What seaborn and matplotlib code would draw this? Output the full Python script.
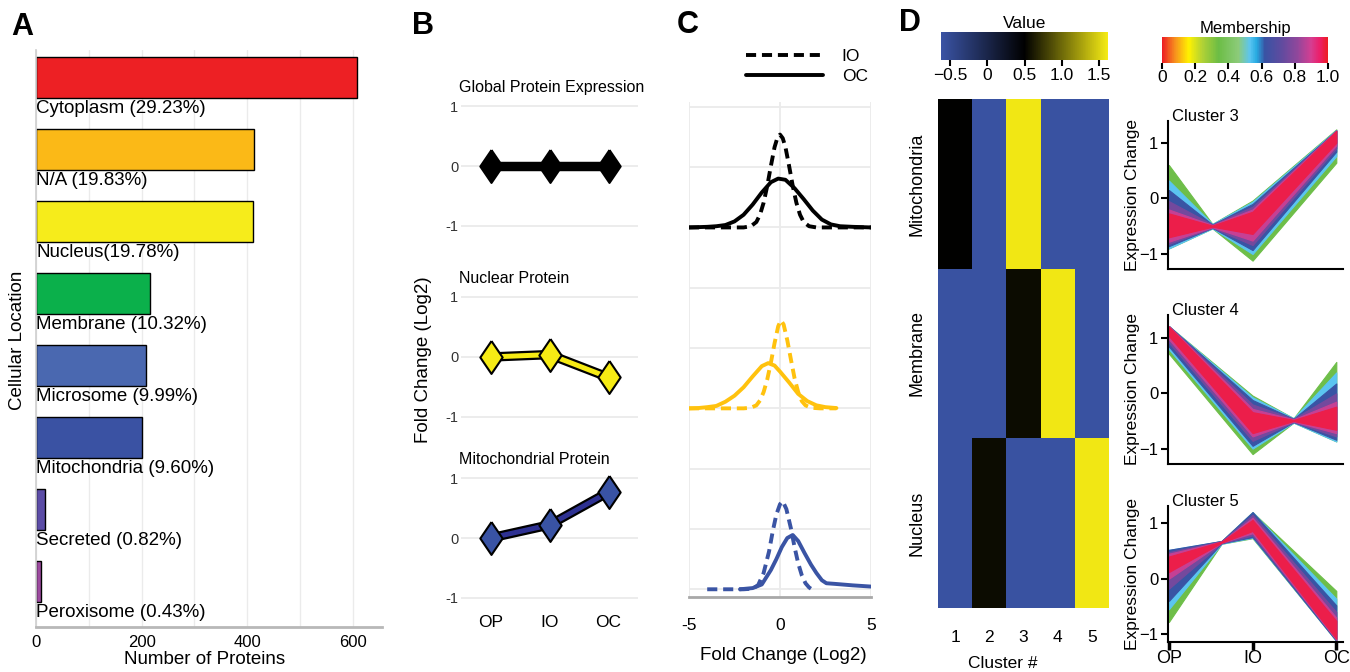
import numpy as np
import pandas as pd
import matplotlib
matplotlib.use('Agg')
import matplotlib.pyplot as plt
import matplotlib.patheffects as pe
from matplotlib.path import Path
from matplotlib.colors import LinearSegmentedColormap, Normalize
from matplotlib.cm import ScalarMappable
import seaborn as sns

sns.set_theme(style='white')
plt.rcParams['font.family'] = ['Liberation Sans', 'DejaVu Sans']
plt.rcParams['text.color'] = 'black'
plt.rcParams['axes.labelcolor'] = 'black'
plt.rcParams['xtick.color'] = 'black'
plt.rcParams['ytick.color'] = 'black'

W, H = 1350, 672

# ---------------- data ----------------
# A: cellular location of proteins
locations = ['Cytoplasm', 'N/A', 'Nucleus', 'Membrane', 'Microsome',
             'Mitochondria', 'Secreted', 'Peroxisome']
location_labels = ['Cytoplasm (29.23%)', 'N/A (19.83%)', 'Nucleus(19.78%)',
                   'Membrane (10.32%)', 'Microsome (9.99%)', 'Mitochondria (9.60%)',
                   'Secreted (0.82%)', 'Peroxisome (0.43%)']
protein_counts = [608, 412, 411, 215, 208, 200, 17, 9]
location_colors = ['#ED2024', '#FBB917', '#F6EC1B', '#0BB04B', '#4A68B0',
                   '#3A52A3', '#5B4CA6', '#9C4A9F']

# B: mean fold change per stage
stages = ['OP', 'IO', 'OC']
global_fc = [0.0, 0.0, 0.0]
nuclear_fc = [0.0, 0.04, -0.34]
mito_fc = [0.0, 0.22, 0.77]

# C: density ridges (heights read in ridge-grid units)
black_io_x = [-5, -2, -1.6, -1.3, -1.1, -0.9, -0.7, -0.5, -0.3, -0.15, 0, 0.15, 0.3, 0.5, 0.7, 0.9, 1.1, 1.3, 1.6, 2, 5]
black_io_h = [0, 0, 0.02, 0.09, 0.21, 0.41, 0.69, 1.02, 1.33, 1.48, 1.54, 1.48, 1.33, 1.02, 0.69, 0.41, 0.21, 0.09, 0.02, 0, 0]
black_oc_x = [-5, -4, -3.5, -3, -2.5, -2, -1.5, -1, -0.5, -0.1, 0.3, 0.8, 1.3, 1.8, 2.3, 2.8, 3.3, 4, 5]
black_oc_h = [0, 0.01, 0.02, 0.04, 0.1, 0.21, 0.38, 0.58, 0.75, 0.81, 0.79, 0.65, 0.47, 0.28, 0.13, 0.05, 0.02, 0.01, 0]
yellow_io_x = [-5, -2, -1.6, -1.3, -1.1, -0.9, -0.7, -0.5, -0.3, -0.1, 0.05, 0.2, 0.4, 0.6, 0.8, 1.0, 1.2, 1.4, 1.7, 2.2, 3.1]
yellow_io_h = [0, 0, 0.01, 0.05, 0.13, 0.27, 0.48, 0.76, 1.08, 1.36, 1.46, 1.39, 1.13, 0.81, 0.5, 0.27, 0.12, 0.05, 0.01, 0, 0]
yellow_oc_x = [-5, -4.5, -4, -3.5, -3, -2.5, -2, -1.5, -1, -0.65, -0.3, 0, 0.5, 1, 1.5, 2, 2.5, 3.1]
yellow_oc_h = [0, 0.005, 0.02, 0.04, 0.11, 0.21, 0.35, 0.53, 0.7, 0.75, 0.71, 0.61, 0.43, 0.24, 0.12, 0.05, 0.02, 0.005]
blue_io_x = [-4, -2, -1.5, -1.2, -0.9, -0.6, -0.4, -0.2, 0, 0.15, 0.35, 0.6, 0.8, 1.0, 1.2, 1.4, 1.6, 1.75]
blue_io_h = [0, 0, 0.01, 0.07, 0.27, 0.63, 0.96, 1.24, 1.41, 1.46, 1.33, 1.01, 0.7, 0.43, 0.23, 0.1, 0.03, 0]
blue_oc_x = [-2.2, -1.5, -1, -0.5, -0.2, 0.1, 0.4, 0.7, 1.0, 1.35, 1.7, 2.0, 2.3, 2.55, 3, 4, 5]
blue_oc_h = [0, 0.02, 0.08, 0.32, 0.5, 0.7, 0.85, 0.9, 0.8, 0.6, 0.41, 0.27, 0.15, 0.1, 0.09, 0.065, 0.045]

# D: heatmap of location enrichment per cluster
heat_rows = ['Mitochondria', 'Membrane', 'Nucleus']
heat_cols = ['1', '2', '3', '4', '5']
heat_values = [[0.50, -0.60, 1.60, -0.60, -0.60],
               [-0.60, -0.60, 0.56, 1.60, -0.60],
               [-0.60, 0.56, -0.60, -0.60, 1.60]]

# D: fuzzy cluster profiles, band edges per membership level
membership_levels = [0.35, 0.53, 0.62, 0.76, 0.88, 0.97]
c3_x = [0, 0.52, 1, 2]
c3_top = [[0.60, -0.46, -0.04, 1.24], [0.32, -0.46, -0.06, 1.23], [0.15, -0.47, -0.10, 1.22],
          [-0.05, -0.47, -0.15, 1.22], [-0.20, -0.48, -0.20, 1.22], [-0.27, -0.49, -0.24, 1.21]]
c3_bot = [[-0.90, -0.54, -1.12, 0.64], [-0.90, -0.54, -1.00, 0.76], [-0.86, -0.53, -0.93, 0.84],
          [-0.82, -0.53, -0.84, 0.90], [-0.78, -0.52, -0.76, 0.95], [-0.70, -0.51, -0.64, 1.00]]
c4_x = [0, 1, 1.49, 2]
c4_top = [[1.22, -0.04, -0.45, 0.57], [1.22, -0.07, -0.45, 0.38], [1.22, -0.12, -0.46, 0.18],
          [1.22, -0.20, -0.46, 0.00], [1.22, -0.28, -0.47, -0.15], [1.21, -0.34, -0.48, -0.24]]
c4_bot = [[0.72, -1.10, -0.53, -0.87], [0.80, -1.00, -0.53, -0.87], [0.85, -0.95, -0.52, -0.84],
          [0.92, -0.86, -0.52, -0.78], [0.98, -0.78, -0.51, -0.72], [1.04, -0.72, -0.50, -0.66]]
c5_x = [0, 0.63, 1, 2]
c5_top = [[0.50, 0.68, 1.20, -0.22], [0.52, 0.68, 1.20, -0.36], [0.52, 0.68, 1.20, -0.48],
          [0.48, 0.68, 1.15, -0.60], [0.45, 0.67, 1.10, -0.70], [0.40, 0.67, 1.06, -0.76]]
c5_bot = [[-0.78, 0.63, 0.73, -1.12], [-0.55, 0.63, 0.74, -1.12], [-0.40, 0.64, 0.75, -1.12],
          [-0.18, 0.64, 0.78, -1.10], [0.00, 0.65, 0.82, -1.10], [0.12, 0.65, 0.86, -1.08]]

# ---------------- helpers ----------------
fig = plt.figure(figsize=(13.5, 6.72), dpi=100)


def axes_px(left, top, right, bottom):
    return fig.add_axes([left / W, 1 - bottom / H, (right - left) / W, (bottom - top) / H])


def text_px(x, y, s, **kw):
    fig.text(x / W, 1 - y / H, s, **kw)


grid_grey = '#EBEBEB'

# panel letters
for letter, (lx, ly) in zip('ABCD', [(22, 27), (423, 26), (688, 25), (910, 23)]):
    text_px(lx, ly, letter, fontsize=22, fontweight='bold', ha='center', va='center')

# ---------------- A ----------------
ax_a = axes_px(36, 50, 382, 627)
df_a = pd.DataFrame({'location': locations, 'proteins': protein_counts})
sns.barplot(data=df_a, x='proteins', y='location', hue='location', palette=location_colors,
            legend=False, width=0.57, edgecolor='black', linewidth=1.0, saturation=1, ax=ax_a)
ax_a.set_ylim(7.63, -0.38)
ax_a.set_xlim(0, 655)
ax_a.set_yticks([])
ax_a.set_xticks([0, 200, 400, 600])
ax_a.set_xticks(np.arange(100, 700, 100), minor=True)
ax_a.grid(axis='x', which='both', color=grid_grey, lw=1)
ax_a.set_axisbelow(True)
ax_a.tick_params(axis='x', which='both', length=0, labelsize=12, pad=6)
for i, lab in enumerate(location_labels):
    ax_a.text(0, i + 0.43, lab, fontsize=13.5, ha='left', va='center')
for s in ['top', 'right']:
    ax_a.spines[s].set_visible(False)
ax_a.spines['left'].set_color('#D0D0D0')
ax_a.spines['bottom'].set_color('#B8B8B8')
ax_a.spines['bottom'].set_linewidth(2)
ax_a.set_xlabel('')
ax_a.set_ylabel('')
text_px(205, 660, 'Number of Proteins', fontsize=13.5, ha='center', va='center')
text_px(18, 340, 'Cellular Location', fontsize=13.5, ha='center', va='center', rotation=90)

# ---------------- B ----------------
diamond = Path([(0, 1), (0.68, 0), (0, -1), (-0.68, 0), (0, 1)])
b_panels = [('Global Protein Expression', global_fc, '#000000', '#000000', (100.5, 231.5)),
            ('Nuclear Protein', nuclear_fc, '#F6EB14', '#F6EB14', (291, 423)),
            ('Mitochondrial Protein', mito_fc, '#3953A4', '#2E3192', (472.5, 603.5))]
for k, (title, vals, fill, line, (top, bottom)) in enumerate(b_panels):
    ax = axes_px(461, top, 638, bottom)
    sns.lineplot(x=stages, y=vals, color=line, lw=3.6, sort=False, ax=ax,
                 path_effects=[pe.Stroke(linewidth=6.8, foreground='black'), pe.Normal()])
    sns.scatterplot(x=stages, y=vals, marker=diamond, s=560, color=fill,
                    edgecolor='black', linewidth=1.5, ax=ax, zorder=3, clip_on=False)
    ax.set_xlim(-0.5, 2.5)
    ax.set_ylim(-1.1, 1.1)
    ax.set_yticks([-1, 0, 1], ['-1', '0', '1'])
    ax.grid(axis='y', color=grid_grey, lw=1.3)
    ax.grid(axis='x', visible=False)
    ax.set_axisbelow(True)
    ax.tick_params(axis='y', length=0, labelsize=10.5, labelcolor='#333333', pad=2)
    if k < 2:
        ax.tick_params(axis='x', length=0, labelbottom=False)
    else:
        ax.tick_params(axis='x', length=0, labelsize=12.5, pad=8)
    for s in ax.spines.values():
        s.set_visible(False)
    ax.set_title(title, loc='left', fontsize=11.5, pad=6, x=-0.01)
text_px(423, 360, 'Fold Change (Log2)', fontsize=13.5, ha='center', va='center', rotation=90)

# ---------------- C ----------------
ax_c = axes_px(689, 102, 871, 597)
ridges = [(6, '#000000', black_io_x, black_io_h, black_oc_x, black_oc_h),
          (3, '#FFC20E', yellow_io_x, yellow_io_h, yellow_oc_x, yellow_oc_h),
          (0, '#3A54A4', blue_io_x, blue_io_h, blue_oc_x, blue_oc_h)]
for offset, col, iox, ioh, ocx, och in ridges:
    sns.lineplot(x=ocx, y=np.array(och) + offset, color=col, lw=2.8, sort=False,
                 errorbar=None, ax=ax_c, label='OC' if offset == 6 else None)
    sns.lineplot(x=iox, y=np.array(ioh) + offset, color=col, lw=2.8, sort=False,
                 errorbar=None, ax=ax_c, linestyle=(0, (2.6, 1.5)),
                 label='IO' if offset == 6 else None)
ax_c.set_xlim(-5, 5)
ax_c.set_ylim(-0.128, 8.08)
ax_c.set_xticks([-5, 0, 5], ['-5', '0', '5'])
ax_c.set_yticks(range(0, 9))
ax_c.grid(True, color=grid_grey, lw=1.3)
ax_c.set_axisbelow(True)
ax_c.tick_params(axis='y', length=0, labelleft=False)
ax_c.tick_params(axis='x', length=0, labelsize=12.5, pad=15)
for s in ['top', 'right', 'left']:
    ax_c.spines[s].set_visible(False)
ax_c.spines['bottom'].set_color('#A8A8A8')
ax_c.spines['bottom'].set_linewidth(2)
handles, labels = ax_c.get_legend_handles_labels()
order = [labels.index('IO'), labels.index('OC')]
ax_c.legend([handles[i] for i in order], [labels[i] for i in order], loc='lower right',
            bbox_to_anchor=(1.02, 1.022), frameon=False, fontsize=12.5, handlelength=4.4,
            handletextpad=1.1, labelspacing=0.3, borderaxespad=0)
text_px(783, 656, 'Fold Change (Log2)', fontsize=13.5, ha='center', va='center')

# ---------------- D: heatmap ----------------
value_cmap = LinearSegmentedColormap.from_list('value', ['#3A53A4', '#000000', '#F5EB14'])
ax_h = axes_px(938, 99, 1109, 608)
cax_v = axes_px(941, 32, 1108, 60)
df_h = pd.DataFrame(heat_values, index=heat_rows, columns=heat_cols)
sns.heatmap(df_h, cmap=value_cmap, vmin=-0.62, vmax=1.62, ax=ax_h, cbar_ax=cax_v,
            cbar_kws={'orientation': 'horizontal'})
ax_h.tick_params(axis='both', length=0)
ax_h.tick_params(axis='x', labelsize=12.5, pad=16, rotation=0)
ax_h.tick_params(axis='y', labelsize=13, pad=9)
for lab in ax_h.get_yticklabels():
    lab.set_rotation(90)
    lab.set_va('center')
ax_h.set_xlabel('')
ax_h.set_ylabel('')
text_px(1003, 663, 'Cluster #', fontsize=12.5, ha='center', va='center')
cax_v.set_xticks([-0.5, 0, 0.5, 1.0, 1.5], ['\u22120.5', '0', '0.5', '1.0', '1.5'])
cax_v.tick_params(axis='x', length=4, width=1.5, color='black', labelsize=12.5, pad=2, direction='out')
cax_v.xaxis.set_ticks_position('bottom')
cax_v.set_title('Value', fontsize=12.5, pad=3)
for s in cax_v.spines.values():
    s.set_visible(False)

# ---------------- D: membership colorbar ----------------
membership_cmap = LinearSegmentedColormap.from_list('membership', [
    (0.0, '#ED1C24'), (0.08, '#F7941D'), (0.16, '#FFF200'), (0.24, '#B2D235'),
    (0.34, '#6CBD45'), (0.46, '#8CCB7A'), (0.53, '#5BC5F2'), (0.57, '#27AAE1'),
    (0.62, '#3953A4'), (0.72, '#5F4B9F'), (0.82, '#92479B'), (0.9, '#D53E92'),
    (0.95, '#EB1F6A'), (1.0, '#ED1C24')])
cax_m = axes_px(1162, 37, 1328, 63)
cb = fig.colorbar(ScalarMappable(norm=Normalize(0, 1), cmap=membership_cmap), cax=cax_m,
                  orientation='horizontal')
cb.outline.set_visible(False)
cb.set_ticks([0, 0.2, 0.4, 0.6, 0.8, 1.0], labels=['0', '0.2', '0.4', '0.6', '0.8', '1.0'])
cax_m.tick_params(axis='x', length=4, width=1.5, color='black', labelsize=12.5, pad=1)
cax_m.set_title('Membership', fontsize=12, pad=3)

# ---------------- D: cluster profiles ----------------
clusters = [('Cluster 3', c3_x, c3_top, c3_bot, (121, 269), (-1.27, 1.39)),
            ('Cluster 4', c4_x, c4_top, c4_bot, (315, 463.5), (-1.27, 1.42)),
            ('Cluster 5', c5_x, c5_top, c5_bot, (506, 642), (-1.14, 1.31))]
for k, (name, xs, tops, bots, (top, bottom), ylim) in enumerate(clusters):
    ax = axes_px(1168, top, 1343, bottom)
    for m, t, b in zip(membership_levels, tops, bots):
        col = membership_cmap(m)
        ax.fill_between(xs, b, t, color=col, lw=0.8, edgecolor=col)
    ax.set_xlim(-0.01, 2.08)
    ax.set_ylim(*ylim)
    ax.set_yticks([-1, 0, 1], ['\u22121', '0', '1'])
    ax.tick_params(axis='y', length=5, width=1.5, color='black', labelsize=12, pad=2, left=True)
    for s in ['top', 'right']:
        ax.spines[s].set_visible(False)
    for s in ['left', 'bottom']:
        ax.spines[s].set_color('black')
        ax.spines[s].set_linewidth(1.5)
    if k < 2:
        ax.set_xticks([])
    else:
        ax.set_xticks([0, 1, 2], stages)
        ax.tick_params(axis='x', length=6, width=2.5, color='black', labelsize=13, pad=0, bottom=True)
    ax.text(0.02, 1.03, name, transform=ax.transAxes, fontsize=12, ha='left', va='center')
    text_px(1132, (top + bottom) / 2, 'Expression Change', fontsize=12.5, ha='center',
            va='center', rotation=90)

fig.savefig('out.png', dpi=100)
